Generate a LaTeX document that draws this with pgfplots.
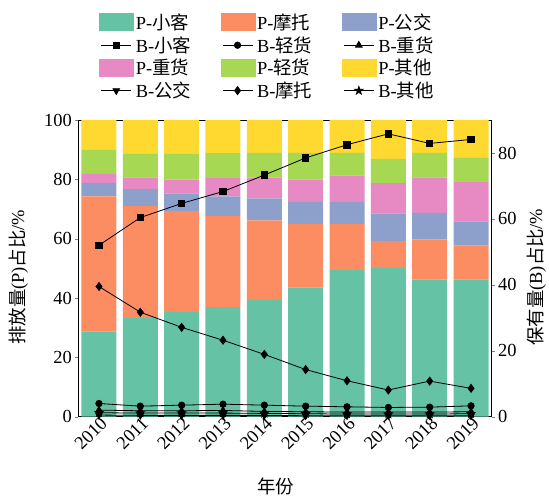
\documentclass[border=0pt]{standalone}
\usepackage{pgfplots}
\pgfplotsset{compat=1.18}
\usepackage{pgfplotstable}
\usepackage{fontspec}
\setmainfont{Liberation Serif}
\newfontfamily\cjk{Noto Sans CJK SC}
\usetikzlibrary{plotmarks}

\definecolor{cXK}{HTML}{66C2A5}
\definecolor{cMT}{HTML}{FC8D62}
\definecolor{cGJ}{HTML}{8DA0CB}
\definecolor{cZH}{HTML}{E78AC3}
\definecolor{cQH}{HTML}{A6D854}
\definecolor{cQT}{HTML}{FFD92F}

% filled five-pointed star
\pgfdeclareplotmark{fstar}{%
  \pgfpathmoveto{\pgfpointpolar{90}{1.25\pgfplotmarksize}}%
  \pgfpathlineto{\pgfpointpolar{126}{0.5\pgfplotmarksize}}%
  \pgfpathlineto{\pgfpointpolar{162}{1.25\pgfplotmarksize}}%
  \pgfpathlineto{\pgfpointpolar{198}{0.5\pgfplotmarksize}}%
  \pgfpathlineto{\pgfpointpolar{234}{1.25\pgfplotmarksize}}%
  \pgfpathlineto{\pgfpointpolar{270}{0.5\pgfplotmarksize}}%
  \pgfpathlineto{\pgfpointpolar{306}{1.25\pgfplotmarksize}}%
  \pgfpathlineto{\pgfpointpolar{342}{0.5\pgfplotmarksize}}%
  \pgfpathlineto{\pgfpointpolar{18}{1.25\pgfplotmarksize}}%
  \pgfpathlineto{\pgfpointpolar{54}{0.5\pgfplotmarksize}}%
  \pgfpathclose\pgfusepathqfillstroke}

\pgfplotsset{
  barleg/.style={legend image code/.code={\fill[##1,draw=none] (0bp,-9bp) rectangle (35bp,9bp);}},
  lineleg/.style={legend image code/.code={%
     \draw[##1,sharp plot,mark repeat=2,mark phase=2] plot coordinates {(2bp,0bp) (17bp,0bp) (32bp,0bp)};}},
}

% shares of emissions (P) and of vehicle stock (B), %
\pgfplotstableread{
x  PXK  PMT  PGJ  PZH  PQH  PQT  BXK  BMT  BQH  BZH  BQT  BGJ
0  28.8 45.5 4.5  3.0  8.1  10.1 52.0 39.5 4.0  2.0  1.2  0.5
1  33.2 37.8 5.7  4.0  7.9  11.4 60.4 31.7 3.2  1.8  1.1  0.4
2  35.3 34.0 6.0  4.6  8.7  11.4 64.7 27.1 3.5  1.8  1.1  0.4
3  36.9 30.7 6.7  6.1  8.4  11.2 68.3 23.2 3.8  1.9  1.1  0.4
4  39.4 26.8 7.4  7.0  8.3  11.1 73.3 18.9 3.5  1.6  1.0  0.4
5  43.6 21.4 7.4  7.6  8.9  11.1 78.5 14.3 3.2  1.5  0.9  0.3
6  49.4 15.6 7.3  9.0  7.6  11.1 82.5 10.9 3.0  1.4  0.8  0.3
7  50.2 9.0  9.3  10.2 8.2  13.1 85.8 8.1  2.8  1.4  0.8  0.3
8  46.3 13.5 8.9  12.0 8.2  11.1 82.9 10.8 2.9  1.4  0.8  0.3
9  46.3 11.4 8.1  13.3 8.3  12.6 84.1 8.6  3.3  1.5  0.9  0.3
}\data

\begin{document}
\begin{tikzpicture}[font=\fontsize{18.5}{22}\selectfont]
\useasboundingbox (-78.3bp,-82.3bp) rectangle (470.7bp,416.7bp);
\begin{axis}[
  scale only axis, width=413.4bp, height=296.7bp,
  ybar stacked, bar width=35bp,
  xmin=-0.5, xmax=9.5, ymin=0, ymax=100,
  xtick={0,...,9},
  xticklabels={2010,2011,2012,2013,2014,2015,2016,2017,2018,2019},
  xticklabel style={rotate=45, anchor=east, inner sep=1pt, xshift=4bp, yshift=-4bp},
  xtick style={draw=none},
  ytick={0,20,...,100}, ytick pos=left,
  tick align=outside, major tick length=3bp,
  axis line style={line width=0.8bp},
  /pgf/number format/assume math mode=true,
  xlabel={{\cjk 年份}},
  xlabel style={at={(axis description cs:0.478,-0.236)}, anchor=center},
  ylabel={{\cjk 排放量}(P){\cjk 占比}/\%},
  ylabel style={at={(axis description cs:-0.145,0.47)}, anchor=center, rotate=0},
  legend columns=3,
  legend cell align=left,
  legend style={at={(axis description cs:0.043,1.37)}, anchor=north west,
    draw=none, fill=none, row sep=2.6bp,
    nodes={inner sep=1.5bp},
    /tikz/every even column/.append style={column sep=28bp}},
]
\addplot[fill=cXK, draw=none, barleg] table[x=x,y=PXK]{\data}; \addlegendentry{P-{\cjk 小客}}
\addplot[fill=cMT, draw=none, barleg] table[x=x,y=PMT]{\data}; \addlegendentry{P-{\cjk 摩托}}
\addplot[fill=cGJ, draw=none, barleg] table[x=x,y=PGJ]{\data}; \addlegendentry{P-{\cjk 公交}}
\addlegendimage{lineleg, black, line width=0.8bp, mark=square*, mark size=3.2bp}
\addlegendentry{B-{\cjk 小客}}
\addlegendimage{lineleg, black, line width=0.8bp, mark=*, mark size=3.2bp}
\addlegendentry{B-{\cjk 轻货}}
\addlegendimage{lineleg, black, line width=0.8bp, mark=triangle*, mark size=3.8bp}
\addlegendentry{B-{\cjk 重货}}
\addplot[fill=cZH, draw=none, barleg] table[x=x,y=PZH]{\data}; \addlegendentry{P-{\cjk 重货}}
\addplot[fill=cQH, draw=none, barleg] table[x=x,y=PQH]{\data}; \addlegendentry{P-{\cjk 轻货}}
\addplot[fill=cQT, draw=none, barleg] table[x=x,y=PQT]{\data}; \addlegendentry{P-{\cjk 其他}}
\addlegendimage{lineleg, black, line width=0.8bp, mark=triangle*, mark size=3.8bp, mark options={rotate=180}}
\addlegendentry{B-{\cjk 公交}}
\addlegendimage{lineleg, black, line width=0.8bp, mark=diamond*, mark size=4bp}
\addlegendentry{B-{\cjk 摩托}}
\addlegendimage{lineleg, black, line width=0.8bp, mark=fstar, mark size=3.4bp}
\addlegendentry{B-{\cjk 其他}}
\end{axis}
\begin{axis}[
  scale only axis, width=413.4bp, height=296.7bp,
  xmin=-0.5, xmax=9.5, ymin=0, ymax=90,
  axis x line=none, axis y line*=right,
  axis line style={line width=0.8bp, -},
  ytick={0,20,...,80},
  tick align=outside, major tick length=3bp,
  /pgf/number format/assume math mode=true,
  ylabel={{\cjk 保有量}(B){\cjk 占比}/\%},
  ylabel style={at={(axis description cs:1.108,0.47)}, anchor=center, rotate=0},
  every axis plot/.append style={black, line width=0.8bp},
]
\addplot[mark=*, mark size=3.2bp] table[x=x,y=BQH]{\data};
\addplot[mark=triangle*, mark size=3.8bp] table[x=x,y=BZH]{\data};
\addplot[mark=fstar, mark size=3.4bp] table[x=x,y=BQT]{\data};
\addplot[mark=triangle*, mark size=3.8bp, mark options={rotate=180}] table[x=x,y=BGJ]{\data};
\addplot[mark=diamond*, mark size=4bp] table[x=x,y=BMT]{\data};
\addplot[mark=square*, mark size=3.2bp] table[x=x,y=BXK]{\data};
\end{axis}
\end{tikzpicture}
\end{document}
